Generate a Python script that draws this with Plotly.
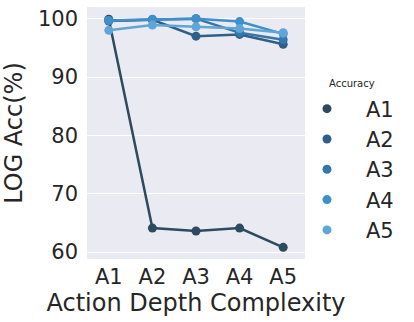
import plotly.graph_objects as go

# x categories (action depth) and one series per accuracy level
depths = ['A1', 'A2', 'A3', 'A4', 'A5']
series_names = ['A1', 'A2', 'A3', 'A4', 'A5']
acc_a1 = [99.9, 64.1, 63.6, 64.1, 60.8]
acc_a2 = [99.6, 99.8, 97.0, 97.3, 95.6]
acc_a3 = [99.7, 99.8, 100.0, 97.6, 96.4]
acc_a4 = [99.7, 99.9, 100.0, 99.5, 97.4]
acc_a5 = [98.0, 98.9, 98.6, 98.3, 97.6]
colors = ['#2d4a5f', '#2f5f86', '#3576ad', '#3f8fca', '#5fa5d6']

values = [acc_a1, acc_a2, acc_a3, acc_a4, acc_a5]

fig = go.Figure()
for name, y, c in zip(series_names, values, colors):
    # line part, no legend entry
    fig.add_trace(go.Scatter(x=depths, y=y, mode='lines', name=name,
                             line=dict(color=c, width=2.5),
                             legendgroup=name, showlegend=False,
                             hoverinfo='skip'))
    # points, these give the legend its dots
    fig.add_trace(go.Scatter(x=depths, y=y, mode='markers', name=name,
                             marker=dict(color=c, size=9),
                             legendgroup=name))

font = 'DejaVu Sans, sans-serif'
fig.update_layout(
    width=414, height=322,
    margin=dict(l=87, r=109, t=7, b=63),
    paper_bgcolor='white',
    plot_bgcolor='#eaeaf2',
    font=dict(family=font, color='#262626'),
    legend=dict(font=dict(size=21),
                x=0.922, xanchor='left', y=0.355, yanchor='middle',
                itemwidth=68, bgcolor='rgba(0,0,0,0)',
                tracegroupgap=0),
    xaxis=dict(title=dict(text='Action Depth Complexity', font=dict(size=24), standoff=2),
               tickfont=dict(size=21), showgrid=False, zeroline=False,
               range=[-0.5, 4.5], ticklabelstandoff=3, automargin=False),
    yaxis=dict(title=dict(text='LOG Acc(%)', font=dict(size=24), standoff=9),
               tickfont=dict(size=21), tickvals=[60, 70, 80, 90, 100],
               gridcolor='white', gridwidth=1, zeroline=False,
               range=[58.8, 102.0], ticklabelstandoff=8, automargin=False),
)

# legend heading sits above the dots, left-aligned with them
fig.add_annotation(text='Accuracy', x=1.101, y=0.698, xref='paper', yref='paper',
                   xanchor='left', yanchor='middle', showarrow=False,
                   font=dict(size=10))

# drop the browser's default body margin so the figure sits at 0,0
fig.write_html("out.html", config={'displayModeBar': False},
               post_script="document.body.style.margin='0px';")
